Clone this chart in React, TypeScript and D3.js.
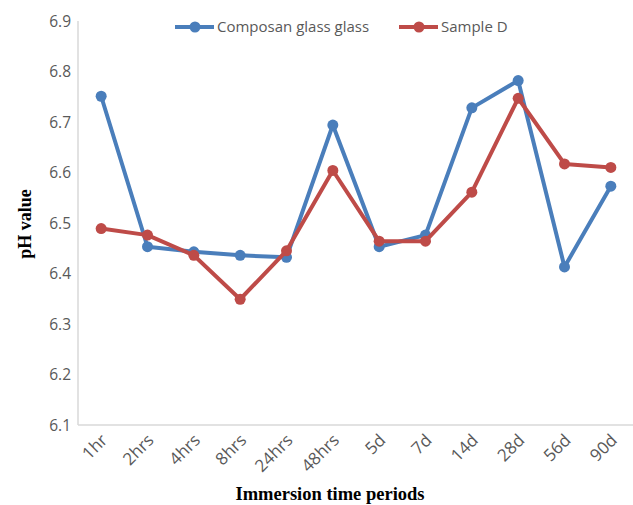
import React, { useEffect, useRef } from 'react'
import { select, scaleBand, scaleLinear, line } from 'd3'

const periods = ['1hr', '2hrs', '4hrs', '8hrs', '24hrs', '48hrs', '5d', '7d', '14d', '28d', '56d', '90d']
const composan = [6.751, 6.453, 6.443, 6.436, 6.432, 6.694, 6.453, 6.476, 6.728, 6.782, 6.413, 6.573]
const sampleD = [6.489, 6.476, 6.436, 6.349, 6.445, 6.604, 6.464, 6.464, 6.561, 6.747, 6.617, 6.61]
const yTicks = [6.1, 6.2, 6.3, 6.4, 6.5, 6.6, 6.7, 6.8, 6.9]
const seriesNames = ['Composan glass glass', 'Sample D']
const colors = ['#4a7ebb', '#be4b48']

function App() {
  const ref = useRef(null)
  const width = 633, height = 505
  const margin = { top: 21, right: 0, bottom: 80, left: 78 }

  useEffect(() => {
    const svg = select(ref.current)
    svg.selectAll('*').remove()

    const x = scaleBand().domain(periods).range([margin.left, 634]).padding(0)
    const y = scaleLinear().domain([6.1, 6.9]).range([height - margin.bottom, margin.top])
    const tickFont = '"Open Sans", sans-serif'

    // axes lines
    svg.append('line')
      .attr('x1', margin.left).attr('x2', margin.left)
      .attr('y1', y(6.9)).attr('y2', y(6.1))
      .attr('stroke', '#d9d9d9').attr('stroke-width', 1.5)
    svg.append('line')
      .attr('x1', margin.left).attr('x2', width)
      .attr('y1', y(6.1)).attr('y2', y(6.1))
      .attr('stroke', '#d9d9d9').attr('stroke-width', 1.5)

    // y tick labels
    svg.append('g').selectAll('text')
      .data(yTicks)
      .join('text')
      .attr('x', 71)
      .attr('y', d => y(d))
      .attr('dy', '0.36em')
      .attr('text-anchor', 'end')
      .attr('font-family', tickFont)
      .attr('font-size', 15.5)
      .attr('fill', '#595959')
      .text(d => d.toFixed(1))

    // x tick labels
    svg.append('g').selectAll('text')
      .data(periods)
      .join('text')
      .attr('transform', d => `translate(${x(d) + x.bandwidth() / 2 + 3},${y(6.1) + 12}) rotate(-45)`)
      .attr('text-anchor', 'end')
      .attr('dy', '0.36em')
      .attr('font-family', tickFont)
      .attr('font-size', 17)
      .attr('fill', '#595959')
      .text(d => d)

    const cx = d => x(d) + x.bandwidth() / 2
    const series = [composan, sampleD]
    series.forEach((vals, i) => {
      const pts = vals.map((v, j) => [cx(periods[j]), y(v)])
      svg.append('path')
        .attr('d', line()(pts))
        .attr('fill', 'none')
        .attr('stroke', colors[i])
        .attr('stroke-width', 4)
        .attr('stroke-linejoin', 'round')
      svg.append('g').selectAll('circle')
        .data(pts)
        .join('circle')
        .attr('cx', d => d[0]).attr('cy', d => d[1])
        .attr('r', 5.5)
        .attr('fill', colors[i])
    })

    // legend
    const legendX = [175, 399]
    seriesNames.forEach((name, i) => {
      const g = svg.append('g').attr('transform', `translate(${legendX[i]},27)`)
      g.append('line').attr('x1', 0).attr('x2', 39).attr('y1', 0).attr('y2', 0)
        .attr('stroke', colors[i]).attr('stroke-width', 4)
      g.append('circle').attr('cx', 20).attr('cy', 0).attr('r', 5.5).attr('fill', colors[i])
      g.append('text').attr('x', 42).attr('dy', '0.36em')
        .attr('font-family', tickFont).attr('font-size', 15).attr('fill', '#595959')
        .text(name)
    })

    // axis titles
    svg.append('text')
      .attr('transform', `translate(31,224) rotate(-90)`)
      .attr('text-anchor', 'middle')
      .attr('font-family', '"Liberation Serif", serif')
      .attr('font-weight', 'bold')
      .attr('font-size', 18)
      .attr('fill', '#000')
      .text('pH value')
    svg.append('text')
      .attr('x', 330).attr('y', 500)
      .attr('text-anchor', 'middle')
      .attr('font-family', '"Liberation Serif", serif')
      .attr('font-weight', 'bold')
      .attr('font-size', 18.5)
      .attr('fill', '#000')
      .text('Immersion time periods')
  }, [])

  return (
    <svg ref={ref} width={width} height={height}
      style={{ position: 'absolute', top: 0, left: 0, background: '#fff' }} />
  )
}

export default App
